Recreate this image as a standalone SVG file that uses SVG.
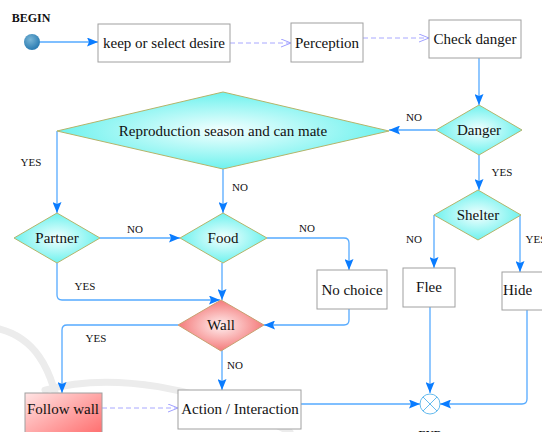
<svg xmlns="http://www.w3.org/2000/svg" width="542" height="432" viewBox="0 0 542 432">
<defs>
<style>
text{font-family:'Liberation Serif','Times New Roman','DejaVu Serif',serif}
.box{fill:#fff;stroke:#a0a0a0;stroke-width:1}
.dia{fill:url(#cyan);stroke:#b4b46a;stroke-width:1}
.t{font-size:15px;fill:#111;text-anchor:middle}
.lb{font-size:11px;fill:#111;text-anchor:middle}
.bd{font-size:12px;font-weight:bold;fill:#111;text-anchor:middle}
.c{fill:none;stroke:#55aaff;stroke-width:1.3;marker-end:url(#ah)}
.d{fill:none;stroke:#a8a8ff;stroke-width:1;stroke-dasharray:5 3;marker-end:url(#oh)}
.wm{fill:none;stroke:#ececec;stroke-width:7;stroke-linecap:round}
</style>
<radialGradient id="cyan" cx="50%" cy="50%" r="50%">
<stop offset="0" stop-color="#f4ffff"/>
<stop offset="1" stop-color="#6ef2ee"/>
</radialGradient>
<radialGradient id="red" cx="50%" cy="50%" r="50%">
<stop offset="0" stop-color="#fff0f0"/>
<stop offset="1" stop-color="#f47a7a"/>
</radialGradient>
<linearGradient id="red2" x1="0" y1="0" x2="1" y2="1">
<stop offset="0" stop-color="#ffe4e4"/>
<stop offset="1" stop-color="#ff6868"/>
</linearGradient>
<radialGradient id="ball" cx="40%" cy="35%" r="60%">
<stop offset="0" stop-color="#7ab6d6"/>
<stop offset="1" stop-color="#2f7fb4"/>
</radialGradient>
<marker id="ah" markerUnits="userSpaceOnUse" markerWidth="11" markerHeight="9" refX="11" refY="4.5" orient="auto">
<path d="M0,0 L11,4.5 L0,9 L2,4.5 z" fill="#0a7cff"/>
</marker>
<marker id="oh" markerUnits="userSpaceOnUse" markerWidth="11" markerHeight="9" refX="10" refY="4.5" orient="auto">
<path d="M0,0.5 L10,4.5 L0,8.5" fill="none" stroke="#a0a0ff" stroke-width="1"/>
</marker>
</defs>
<rect width="542" height="432" fill="#fff"/>
<g id="watermark">
<path class="wm" d="M-5,328 C30,335 55,362 62,432"/>
<path class="wm" d="M45,390 C110,372 200,385 290,432"/>
</g>
<g id="connectors">
<path class="c" d="M40,42 L98,42"/>
<path class="d" d="M230,43 L291,43"/>
<path class="d" d="M363,38 L429,38"/>
<path class="c" d="M479,58 L479,105"/>
<path class="c" d="M436,130 L389,130"/>
<path class="c" d="M479,155 L479,190"/>
<path class="c" d="M57,131 L57,213"/>
<path class="c" d="M223,169 L223,213"/>
<path class="c" d="M100,238 L180,238"/>
<path class="c" d="M267,238 L344,238 Q349,238 349,243 L349,270"/>
<path class="c" d="M57,263 L57,295 Q57,300 62,300 L220,300"/>
<path class="c" d="M222,263 L222,300"/>
<path class="c" d="M349,309 L349,320 Q349,325 344,325 L264,325"/>
<path class="c" d="M178,325 L67,325 Q62,325 62,330 L62,393"/>
<path class="c" d="M222,350 L222,390"/>
<path class="d" d="M102,408 L178,408"/>
<path class="c" d="M301,404 L420,404"/>
<path class="c" d="M430,307 L430,393"/>
<path class="c" d="M527,310 L527,399 Q527,404 522,404 L440,404"/>
<path class="c" d="M434,215 L434,268"/>
<path class="c" d="M520,215 L520,272"/>
</g>
<g id="labels">
<text class="lb" x="414" y="121">NO</text>
<text class="lb" x="502" y="176">YES</text>
<text class="lb" x="31" y="166">YES</text>
<text class="lb" x="240" y="191">NO</text>
<text class="lb" x="135" y="233">NO</text>
<text class="lb" x="307" y="232">NO</text>
<text class="lb" x="85" y="290">YES</text>
<text class="lb" x="96" y="342">YES</text>
<text class="lb" x="235" y="369">NO</text>
<text class="lb" x="414" y="243">NO</text>
<text class="lb" x="536" y="243">YES</text>
</g>
<g id="begin">
<text class="bd" x="31" y="22">BEGIN</text>
<circle cx="32" cy="42" r="8" fill="url(#ball)"/>
</g>
<g id="keep">
<rect class="box" x="98" y="24" width="132" height="38"/>
<text class="t" x="164" y="48">keep or select desire</text>
</g>
<g id="perception">
<rect class="box" x="291" y="23" width="72" height="39"/>
<text class="t" x="327" y="48">Perception</text>
</g>
<g id="check">
<rect class="box" x="429" y="20" width="92" height="38"/>
<text class="t" x="475" y="44">Check danger</text>
</g>
<g id="danger">
<polygon class="dia" points="479,105 522,130 479,155 436,130"/>
<text class="t" x="479" y="135">Danger</text>
</g>
<g id="reproduction">
<polygon class="dia" points="223,92 389,131 223,169 57,131"/>
<text class="t" x="223" y="136">Reproduction season and can mate</text>
</g>
<g id="shelter">
<polygon class="dia" points="478,190 521,215 478,240 434,215"/>
<text class="t" x="478" y="220">Shelter</text>
</g>
<g id="partner">
<polygon class="dia" points="57,213 100,238 57,263 14,238"/>
<text class="t" x="57" y="243">Partner</text>
</g>
<g id="food">
<polygon class="dia" points="223,213 267,238 223,263 180,238"/>
<text class="t" x="223" y="243">Food</text>
</g>
<g id="nochoice">
<rect class="box" x="317" y="270" width="70" height="39"/>
<text class="t" x="352" y="295">No choice</text>
</g>
<g id="flee">
<rect class="box" x="403" y="268" width="52" height="39"/>
<text class="t" x="429" y="292">Flee</text>
</g>
<g id="hide">
<rect class="box" x="502" y="272" width="52" height="38"/>
<text class="t" x="503" y="295" style="text-anchor:start">Hide</text>
</g>
<g id="wall">
<polygon points="221,300 264,325 221,351 178,325" fill="url(#red)" stroke="#c8a070" stroke-width="1"/>
<text class="t" x="221" y="330">Wall</text>
</g>
<g id="followwall">
<rect x="25" y="393" width="77" height="45" fill="url(#red2)" stroke="#a0a0a0" stroke-width="1"/>
<text class="t" x="63" y="414">Follow wall</text>
</g>
<g id="action">
<rect class="box" x="178" y="390" width="123" height="39"/>
<text class="t" x="240" y="414">Action / Interaction</text>
</g>
<g id="end">
<circle cx="430" cy="404" r="10" fill="#fff" stroke="#66bbee" stroke-width="1"/>
<path d="M423,397 L437,411 M437,397 L423,411" stroke="#66bbee" stroke-width="1"/>
<text class="bd" x="430" y="438" style="font-size:11px">END</text>
</g>
</svg>
